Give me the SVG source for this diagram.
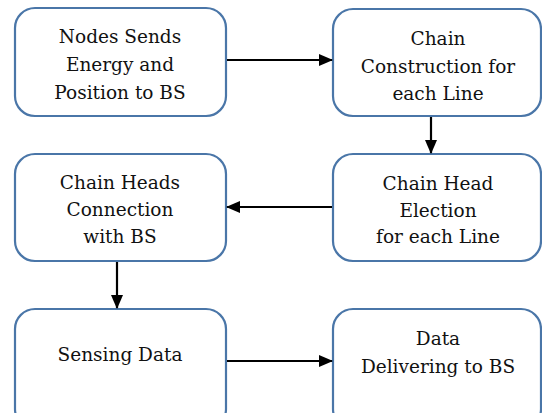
<svg xmlns="http://www.w3.org/2000/svg" width="542" height="413" viewBox="0 0 542 413">
<style>
.box{fill:#fff;stroke:#4a76a8;stroke-width:2.2}
text{font-family:'DejaVu Serif',serif;font-size:18.5px;fill:#111;text-anchor:middle}
.c{stroke:#000;stroke-width:2.2;fill:none}
</style>
<defs>
<marker id="ah" markerWidth="14" markerHeight="12" refX="13" refY="6" orient="auto" markerUnits="userSpaceOnUse" viewBox="0 0 14 12">
<path d="M0,0 L14,6 L0,12 Z" fill="#000"/>
</marker>
</defs>
<rect width="542" height="413" fill="#fff"/>
<g id="n1"><rect class="box" x="15" y="8" width="211" height="108" rx="20"/>
<text x="120" y="43">Nodes Sends</text><text x="120" y="71">Energy and</text><text x="120" y="99">Position to BS</text></g>
<g id="n2"><rect class="box" x="333" y="9" width="208" height="107" rx="20"/>
<text x="438" y="45">Chain</text><text x="438" y="73">Construction for</text><text x="438" y="100">each Line</text></g>
<g id="n3"><rect class="box" x="15" y="154" width="211" height="107" rx="20"/>
<text x="120" y="189">Chain Heads</text><text x="120" y="216">Connection</text><text x="120" y="243">with BS</text></g>
<g id="n4"><rect class="box" x="333" y="154" width="208" height="107" rx="20"/>
<text x="438" y="190">Chain Head</text><text x="438" y="217">Election</text><text x="438" y="243">for each Line</text></g>
<g id="n5"><rect class="box" x="15" y="309" width="211" height="120" rx="20"/>
<text x="120" y="361">Sensing Data</text></g>
<g id="n6"><rect class="box" x="333" y="309" width="208" height="120" rx="20"/>
<text x="438" y="345">Data</text><text x="438" y="373">Delivering to BS</text></g>
<g id="connectors">
<line class="c" x1="227" y1="60" x2="332" y2="60" marker-end="url(#ah)"/>
<line class="c" x1="431" y1="117" x2="431" y2="153" marker-end="url(#ah)"/>
<line class="c" x1="332" y1="207" x2="227" y2="207" marker-end="url(#ah)"/>
<line class="c" x1="117" y1="262" x2="117" y2="308" marker-end="url(#ah)"/>
<line class="c" x1="227" y1="361" x2="332" y2="361" marker-end="url(#ah)"/>
</g>
</svg>
